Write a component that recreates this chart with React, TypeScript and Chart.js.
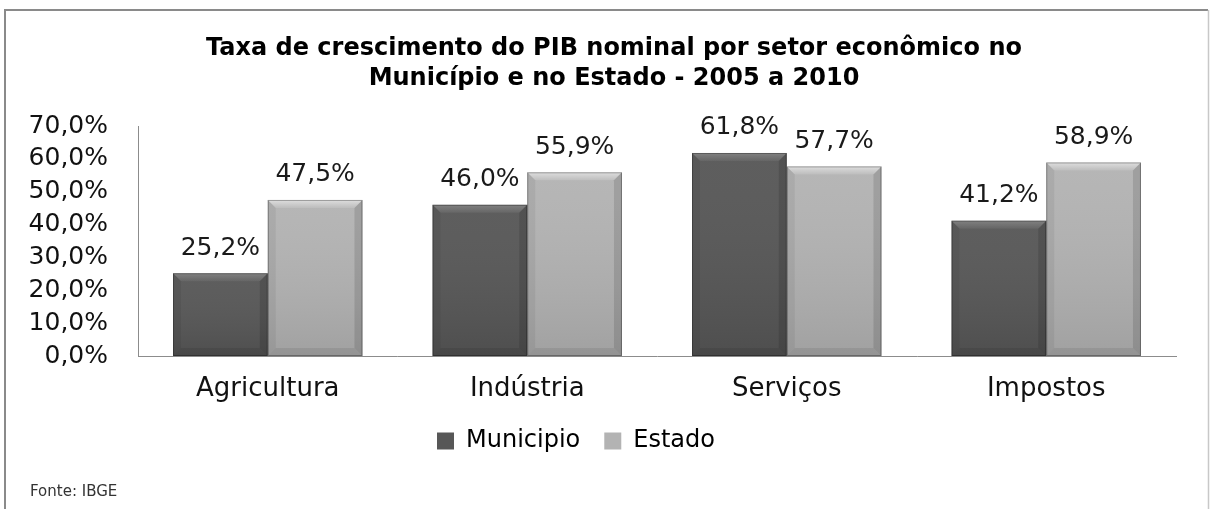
import React, { useEffect, useRef } from "react";
import { Chart, registerables } from "chart.js";

Chart.register(...registerables);

const titleLines = [
  "Taxa de crescimento do PIB nominal por setor econômico no",
  "Município e no Estado - 2005 a 2010",
];
const categories = ["Agricultura", "Indústria", "Serviços", "Impostos"];
const seriesNames = ["Municipio", "Estado"];
const municipioValues = [25.2, 46.0, 61.8, 41.2];
const estadoValues = [47.5, 55.9, 57.7, 58.9];
const yMin = 0;
const yMax = 70;
const yStep = 10;
const sourceNote = "Fonte: IBGE";

const FONT = "'DejaVu Sans', sans-serif";

const fmtPct = (v: number) => v.toFixed(1).replace(".", ",") + "%";

const framePlugin = {
  id: "frame",
  afterLayout(chart: any) {
    const lg = chart.legend;
    if (lg) {
      lg.left -= 12;
      lg.right -= 12;
    }
    const tb = chart.titleBlock;
    if (tb) {
      tb.left += 26;
      tb.right += 26;
    }
  },
  beforeDraw(chart: any) {
    const { ctx, width, height } = chart;
    ctx.save();
    ctx.fillStyle = "#ffffff";
    ctx.fillRect(0, 0, width, height);
    ctx.lineWidth = 2;
    ctx.strokeStyle = "#8a8a8a";
    ctx.beginPath();
    ctx.moveTo(5, height + 5);
    ctx.lineTo(5, 10);
    ctx.lineTo(width - 3, 10);
    ctx.stroke();
    ctx.lineWidth = 1.5;
    ctx.strokeStyle = "#c8c8c8";
    ctx.beginPath();
    ctx.moveTo(width - 2.5, 10);
    ctx.lineTo(width - 2.5, height + 5);
    ctx.stroke();
    ctx.restore();
  },
  afterDraw(chart: any) {
    const { ctx } = chart;
    ctx.save();
    ctx.fillStyle = "#333";
    ctx.font = `15px ${FONT}`;
    ctx.textAlign = "left";
    ctx.textBaseline = "middle";
    ctx.fillText(sourceNote, 30, 492);
    ctx.restore();
  },
};

const bevelPlugin = {
  id: "bevel",
  afterDatasetsDraw(chart: any) {
    const { ctx } = chart;
    ctx.save();
    chart.data.datasets.forEach((ds: any, di: number) => {
      const meta = chart.getDatasetMeta(di);
      meta.data.forEach((el: any) => {
        const w = el.width;
        const l = el.x - w / 2;
        const r = el.x + w / 2;
        const t = el.y;
        const b = el.base;
        const bv = 8;
        const g = ctx.createLinearGradient(0, t, 0, b);
        g.addColorStop(0, "rgba(255,255,255,0.04)");
        g.addColorStop(1, "rgba(0,0,0,0.10)");
        ctx.fillStyle = g;
        ctx.fillRect(l, t, w, b - t);
        const tg = ctx.createLinearGradient(0, t, 0, t + bv);
        tg.addColorStop(0, di === 0 ? "rgba(255,255,255,0.22)" : "rgba(255,255,255,0.55)");
        tg.addColorStop(1, di === 0 ? "rgba(255,255,255,0.05)" : "rgba(255,255,255,0.1)");
        ctx.fillStyle = tg;
        ctx.beginPath();
        ctx.moveTo(l, t);
        ctx.lineTo(r, t);
        ctx.lineTo(r - bv, t + bv);
        ctx.lineTo(l + bv, t + bv);
        ctx.closePath();
        ctx.fill();
        ctx.fillStyle = "rgba(0,0,0,0.06)";
        ctx.beginPath();
        ctx.moveTo(l, t);
        ctx.lineTo(l + bv, t + bv);
        ctx.lineTo(l + bv, b - bv);
        ctx.lineTo(l, b);
        ctx.closePath();
        ctx.fill();
        ctx.fillStyle = "rgba(0,0,0,0.12)";
        ctx.beginPath();
        ctx.moveTo(r, t);
        ctx.lineTo(r - bv, t + bv);
        ctx.lineTo(r - bv, b - bv);
        ctx.lineTo(r, b);
        ctx.closePath();
        ctx.fill();
        ctx.fillStyle = "rgba(0,0,0,0.08)";
        ctx.beginPath();
        ctx.moveTo(l, b);
        ctx.lineTo(l + bv, b - bv);
        ctx.lineTo(r - bv, b - bv);
        ctx.lineTo(r, b);
        ctx.closePath();
        ctx.fill();
        ctx.strokeStyle = "rgba(0,0,0,0.3)";
        ctx.lineWidth = 1;
        ctx.strokeRect(l + 0.5, t + 0.5, w - 1, b - t - 1);
      });
    });
    ctx.fillStyle = "#1a1a1a";
    ctx.font = `25px ${FONT}`;
    ctx.textAlign = "center";
    ctx.textBaseline = "middle";
    chart.data.datasets.forEach((ds: any, di: number) => {
      const meta = chart.getDatasetMeta(di);
      meta.data.forEach((el: any, i: number) => {
        ctx.fillText(fmtPct(ds.data[i]), el.x, el.y - 25);
      });
    });
    ctx.restore();
  },
};

export default function App() {
  const canvasRef = useRef<HTMLCanvasElement | null>(null);

  useEffect(() => {
    if (!canvasRef.current) return;
    const chart = new Chart(canvasRef.current, {
      type: "bar",
      data: {
        labels: categories,
        datasets: [
          {
            label: seriesNames[0],
            data: municipioValues,
            backgroundColor: "#575757",
            borderWidth: 0,
            categoryPercentage: 0.73,
            barPercentage: 1.0,
          },
          {
            label: seriesNames[1],
            data: estadoValues,
            backgroundColor: "#b3b3b3",
            borderWidth: 0,
            categoryPercentage: 0.73,
            barPercentage: 1.0,
          },
        ],
      },
      options: {
        animation: false,
        responsive: true,
        maintainAspectRatio: false,
        layout: { padding: { top: 34, left: 0, right: 35, bottom: 46 } },
        plugins: {
          tooltip: { enabled: false },
          title: {
            display: true,
            text: titleLines,
            color: "#000",
            font: { family: FONT, size: 24, weight: "bold", lineHeight: 30 / 24 },
            padding: { top: 0, bottom: 32 },
          },
          legend: {
            display: true,
            position: "bottom",
            labels: {
              color: "#000",
              font: { family: FONT, size: 24 },
              boxWidth: 17,
              boxHeight: 17,
              padding: 24,
            },
          },
        },
        scales: {
          x: {
            grid: { display: false, drawTicks: false },
            border: { display: true, color: "#8c8c8c", width: 1 },
            ticks: { color: "#111", font: { family: FONT, size: 26 }, padding: 18, autoSkip: false, maxRotation: 0 },
            afterFit: (s: any) => {
              s.height = 49;
            },
          },
          y: {
            min: yMin,
            max: yMax,
            grid: { display: false, drawTicks: false },
            border: { display: true, color: "#8c8c8c", width: 1 },
            ticks: {
              stepSize: yStep,
              autoSkip: false,
              color: "#111",
              font: { family: FONT, size: 25 },
              padding: 30,
              callback: (v: any) => fmtPct(Number(v)),
            },
            afterFit: (s: any) => {
              s.width = 138;
            },
          },
        },
      },
      plugins: [framePlugin, bevelPlugin],
    });
    return () => chart.destroy();
  }, []);

  return (
    <div style={{ position: "absolute", left: 0, top: 0, width: 1211, height: 509 }}>
      <canvas ref={canvasRef} />
    </div>
  );
}
